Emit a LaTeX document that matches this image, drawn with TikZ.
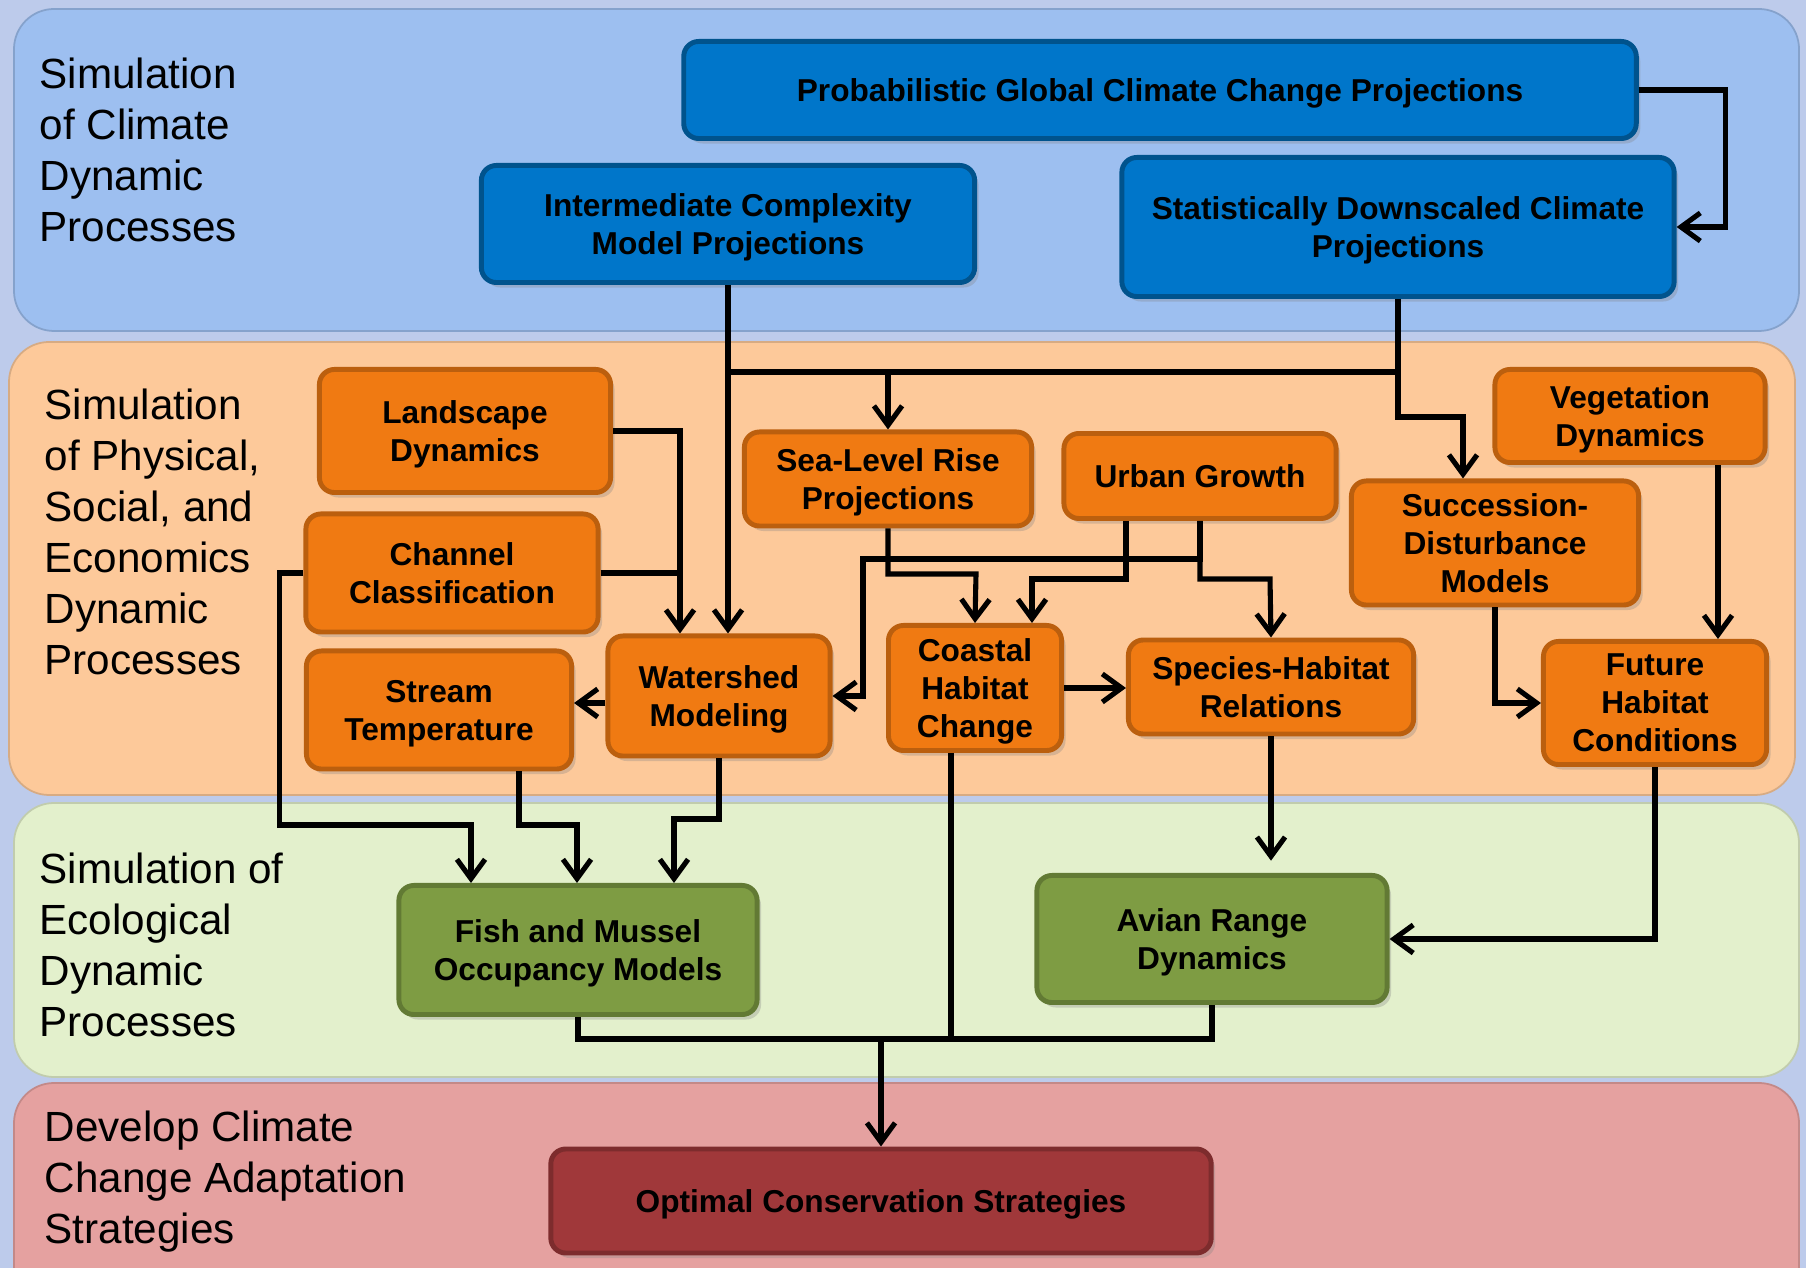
\documentclass[tikz,border=0pt]{standalone}
\usepackage{fontspec}
\setmainfont{Liberation Sans}
\usepackage{tikz}
\usetikzlibrary{arrows.meta,shadows}
\definecolor{bgc}{RGB}{189,203,235}
\definecolor{bandblue}{RGB}{157,191,240}
\definecolor{bandorg}{RGB}{253,201,154}
\definecolor{bandgrn}{RGB}{227,240,204}
\definecolor{bandred}{RGB}{229,161,160}
\definecolor{boxblue}{RGB}{0,118,202}
\definecolor{boxorg}{RGB}{240,122,18}
\definecolor{boxgrn}{RGB}{126,156,67}
\definecolor{boxred}{RGB}{160,56,58}

\begin{document}
\begin{tikzpicture}[x=0.01cm,y=-0.01cm,>={Straight Barb[length=5.5pt,width=8pt]},
  box/.style={rounded corners=0.15cm,inner sep=0pt,align=center,font=\fontsize{9}{10.8}\selectfont\bfseries,
    text depth=-0.8pt,line width=1.4pt,drop shadow={opacity=0.3,shadow xshift=0.04cm,shadow yshift=-0.05cm}},
  bbox/.style={box,fill=boxblue,draw=boxblue!70!black},
  obox/.style={box,fill=boxorg,draw=boxorg!78!black},
  gbox/.style={box,fill=boxgrn,draw=boxgrn!78!black},
  rbox/.style={box,fill=boxred,draw=boxred!78!black},
  lab/.style={anchor=west,align=left,inner sep=0pt,font=\fontsize{12}{14.5}\selectfont},
  wire/.style={line width=1.45pt}]
  \useasboundingbox (0,0) rectangle (1806,1268);
  \clip (0,0) rectangle (1806,1268);
  \fill[bgc] (0,0) rectangle (1806,1268);
  \foreach \c/\xa/\ya/\xb/\yb in {bandblue/14/9/1799/331,bandorg/9/342/1795/795,bandgrn/14/803/1799/1077,bandred/14/1083/1799/1330}
    \filldraw[fill=\c,draw=\c!85!black,line width=0.5pt,rounded corners=0.4cm] (\xa,\ya) rectangle (\xb,\yb);

  \node[lab] (lclim) at (39,150) {Simulation\\of Climate\\Dynamic\\Processes};
  \node[lab] (lphys) at (44,532) {Simulation\\of Physical,\\Social, and\\Economics\\Dynamic\\Processes};
  \node[lab] (leco) at (39,945) {Simulation of\\Ecological\\Dynamic\\Processes};
  \node[lab] (ladapt) at (44,1182) {Develop Climate\\Change Adaptation\\Strategies};

  \node[bbox,minimum width=9.52cm,minimum height=0.97cm] (pgc) at (1160,90) {Probabilistic Global Climate Change Projections};
  \node[bbox,minimum width=4.93cm,minimum height=1.17cm] (imc) at (728,224) {Intermediate Complexity\\Model Projections};
  \node[bbox,minimum width=5.52cm,minimum height=1.39cm] (sdc) at (1398,227) {Statistically Downscaled Climate\\Projections};
  \node[obox,minimum width=2.91cm,minimum height=1.23cm] (land) at (465,431) {Landscape\\Dynamics};
  \node[obox,minimum width=2.92cm,minimum height=1.18cm] (chan) at (452,573) {Channel\\Classification};
  \node[obox,minimum width=2.65cm,minimum height=1.18cm] (strm) at (439,710) {Stream\\Temperature};
  \node[obox,minimum width=2.22cm,minimum height=1.20cm] (wshd) at (719,696) {Watershed\\Modeling};
  \node[obox,minimum width=2.87cm,minimum height=0.94cm] (slr) at (888,479) {Sea-Level Rise\\Projections};
  \node[obox,minimum width=2.72cm,minimum height=0.85cm] (urb) at (1200,476) {Urban Growth};
  \node[obox,minimum width=1.73cm,minimum height=1.25cm] (cst) at (975,688) {Coastal\\Habitat\\Change};
  \node[obox,minimum width=2.85cm,minimum height=0.94cm] (spc) at (1271,687) {Species-Habitat\\Relations};
  \node[obox,minimum width=2.87cm,minimum height=1.24cm] (suc) at (1495,543) {Succession-\\Disturbance\\Models};
  \node[obox,minimum width=2.70cm,minimum height=0.93cm] (veg) at (1630,416) {Vegetation\\Dynamics};
  \node[obox,minimum width=2.23cm,minimum height=1.23cm] (fut) at (1655,703) {Future\\Habitat\\Conditions};
  \node[gbox,minimum width=3.58cm,minimum height=1.29cm] (fish) at (578,950) {Fish and Mussel\\Occupancy Models};
  \node[gbox,minimum width=3.50cm,minimum height=1.27cm] (avi) at (1212,939) {Avian Range\\Dynamics};
  \node[rbox,minimum width=6.60cm,minimum height=1.04cm] (opt) at (881,1201) {Optimal Conservation Strategies};

  \coordinate (cl) at (728,372);
  \coordinate (bj) at (881,1039);
  \draw[wire,->] (pgc.east) -- ++(87,0) |- (sdc.east);
  \draw[wire,->] (imc.south) -- (imc.south |- wshd.north);
  \draw[wire] (cl) -| (sdc.south);
  \draw[wire,->] (sdc.south) |- (1463,417) -- (suc.north -| 1463,0);
  \draw[wire,->] (slr.north |- cl) -- (slr.north);
  \draw[wire,->] (land.east) -| (wshd.north -| 680,0);
  \draw[wire] (chan.east) -- (chan.east -| 680,0);
  \draw[wire,->] (chan.west) -- ++(-24,0) |- (471,825) -- (fish.north -| 471,0);
  \draw[wire,->] (wshd.west |- 0,703) -- (strm.east |- 0,703);
  \draw[wire,->] (strm.south -| 519,0) |- (577,825) -- (fish.north -| 577,0);
  \draw[wire,->] (wshd.south) |- (674,819) -- (fish.north -| 674,0);
  \draw[wire,->] (slr.south) |- (976,574) -- (cst.north);
  \draw[wire,->] (urb.south -| 1126,0) |- (1032,579) -- (cst.north -| 1032,0);
  \draw[wire,->] (urb.south) |- (863,559) |- (wshd.east);
  \draw[wire,->] (urb.south) |- (1270,579) -- (spc.north);
  \draw[wire,->] (cst.east) -- (spc.west |- cst.east);
  \draw[wire,->] (suc.south) |- (fut.west);
  \draw[wire,->] (veg.south -| 1718,0) -- (fut.north -| 1718,0);
  \draw[wire,->] (fut.south) |- (avi.east);
  \draw[wire,->,shorten >=3.5pt] (spc.south) -- (spc.south |- avi.north);
  \draw[wire] (fish.south) |- (bj) -| (avi.south);
  \draw[wire] (cst.south -| 951,0) -- (951,1039);
  \draw[wire,->] (bj) -- (opt.north);
\end{tikzpicture}
\end{document}
